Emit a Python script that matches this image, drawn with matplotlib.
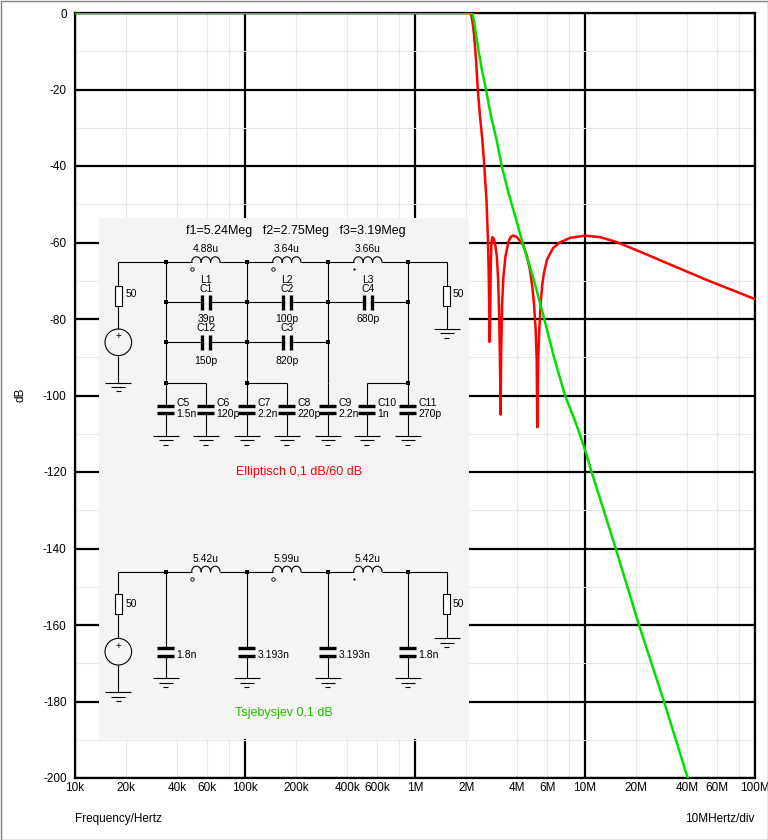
import numpy as np
import matplotlib
matplotlib.use('Agg')
import matplotlib.pyplot as plt
from matplotlib.patches import Rectangle, Circle

plt.rcParams['font.family'] = ['Liberation Sans', 'DejaVu Sans']

# ---------------- data (frequency in MHz, level in dB) ----------------
ell_freq_mhz = [0.01, 0.1, 1.0, 2.0, 2.106, 2.15, 2.181, 2.223, 2.284, 2.341,
                2.411, 2.488, 2.557, 2.634, 2.684, 2.713, 2.731, 2.75, 2.769, 2.788,
                2.81, 2.835, 2.864, 2.915, 2.961, 3.03, 3.084, 3.126, 3.156, 3.19,
                3.212, 3.255, 3.312, 3.403, 3.546, 3.65, 3.76, 3.964, 4.335, 4.539,
                4.746, 4.897, 5.011, 5.128, 5.198, 5.24, 5.311, 5.383, 5.487, 5.605,
                5.735, 5.973, 6.475, 7.1, 8.14, 10.0, 12.25, 15.37, 21.06, 33.07,
                52.0, 100.0]
ell_db = [0, 0, 0, 0, 0, -0.8, -2.5, -5.5, -12, -20,
          -27, -33, -40, -49, -59, -68, -76, -86, -80, -67,
          -61, -59.2, -58.6, -59.2, -60.3, -63.7, -69.8, -78.5, -89, -105,
          -89, -76, -69, -63.7, -59.8, -58.6, -58.2, -58.5, -60.7, -63.3,
          -67.2, -71.5, -76, -83, -90.7, -108.3, -90, -83, -76, -71,
          -68, -64.5, -61.5, -60, -58.8, -58.2, -58.6, -59.9, -62.4, -66.1,
          -69.8, -74.8]

cheb_freq_mhz = [0.01, 0.1, 1.0, 2.0, 2.135, 2.179, 2.223, 2.284, 2.379, 2.478,
                 2.616, 2.799, 3.024, 3.236, 3.572, 3.965, 4.318, 4.944, 5.684, 6.571,
                 7.627, 8.973, 10.14, 10.85, 15.16, 20.78, 29.15, 40.19]
cheb_db = [0, 0, 0, 0, -0.05, -0.3, -2, -5.5, -10.5, -15,
           -20, -27, -33.3, -40, -47.5, -54.5, -60.5, -69, -79, -90,
           -100, -108, -115, -119.5, -140, -160, -180, -200]

x_major = [1e4, 1e5, 1e6, 1e7, 1e8]
x_major_labels = ['10k', '100k', '1M', '10M', '100M']
x_minor = [2e4, 4e4, 6e4, 8e4, 2e5, 4e5, 6e5, 8e5, 2e6, 4e6, 6e6, 8e6, 2e7, 4e7, 6e7, 8e7]
x_minor_labels = ['20k', '40k', '60k', '', '200k', '400k', '600k', '', '2M', '4M', '6M', '',
                  '20M', '40M', '60M', '']
y_major = list(range(0, -201, -20))
y_minor = list(range(-10, -200, -20))

RED = '#ff0000'
GREEN = '#00e000'

# ---------------- figure ----------------
W, H = 768, 840
fig = plt.figure(figsize=(W / 100, H / 100), dpi=100)
fig.patch.set_facecolor('white')
ax = fig.add_axes([75 / W, 1 - 778 / H, 680 / W, 765 / H])
ax.set_xscale('log')
ax.set_xlim(1e4, 1e8)
ax.set_ylim(-200, 0)
ax.set_xticks(x_major)
ax.set_xticklabels(x_major_labels)
ax.set_xticks(x_minor, minor=True)
ax.set_xticklabels(x_minor_labels, minor=True)
ax.set_yticks(y_major)
ax.set_yticklabels([str(v) for v in y_major])
ax.set_yticks(y_minor, minor=True)
ax.tick_params(which='both', length=0, labelsize=8.5, colors='black')
ax.tick_params(axis='x', which='both', pad=3)
ax.tick_params(axis='y', which='both', pad=6)
ax.grid(which='minor', color='#e8e8e8', lw=0.8)
ax.grid(which='major', color='black', lw=1.6)
ax.set_axisbelow(True)
for s in ax.spines.values():
    s.set_linewidth(1.6)
    s.set_color('black')

f_ell = np.array(ell_freq_mhz) * 1e6
f_cheb = np.array(cheb_freq_mhz) * 1e6
ax.plot(f_ell, ell_db, color=RED, lw=1.8, zorder=3)
ax.plot(f_cheb, cheb_db, color=GREEN, lw=1.8, zorder=4)

fig.text(20 / W, 1 - 395 / H, 'dB', rotation=90, ha='center', va='center', fontsize=8.5)
fig.text(75 / W, 1 - 819 / H, 'Frequency/Hertz', ha='left', va='center', fontsize=8.5)
fig.text(754 / W, 1 - 819 / H, '10MHertz/div', ha='right', va='center', fontsize=8.5)

# ---------------- overlay (schematic, pixel coordinates) ----------------
ov = fig.add_axes([0, 0, 1, 1])
ov.set_xlim(0, W)
ov.set_ylim(H, 0)
ov.axis('off')

ov.add_patch(Rectangle((0.5, 0.5), W - 1, H - 1, fill=False, edgecolor='#808080', lw=1))
ov.add_patch(Rectangle((99, 218), 370, 521, facecolor='#f4f4f4', edgecolor='none'))

LW = 0.8
FS = 7.5


def line(xs, ys):
    ov.plot(xs, ys, color='black', lw=LW, solid_capstyle='butt')


def node(x, y):
    ov.plot([x], [y], marker='s', color='black', ms=3, mew=0)


def ground(x, y):
    for dy, hw in ((0, 13), (4.3, 7), (8.6, 2.5)):
        line([x - hw, x + hw], [y + dy, y + dy])


def inductor(x0, x1, y, label, dot_filled):
    w = (x1 - x0) / 3
    t = np.linspace(0, np.pi, 24)
    for i in range(3):
        cx = x0 + w * (i + 0.5)
        ov.plot(cx - (w / 2) * np.cos(t), y - 5.5 * np.sin(t), color='black', lw=LW)
    ov.text((x0 + x1) / 2, y - 13, label, ha='center', va='center', fontsize=FS)
    if dot_filled:
        ov.plot([x0], [y + 7], marker='o', color='black', ms=1.6, mew=0)
    else:
        ov.plot([x0], [y + 7], marker='o', mfc='none', mec='black', ms=2.5, mew=0.6)


def hcap(xc, y):
    ov.plot([xc - 4, xc - 4], [y - 7.5, y + 7.5], color='black', lw=2.4, solid_capstyle='butt')
    ov.plot([xc + 4, xc + 4], [y - 7.5, y + 7.5], color='black', lw=2.4, solid_capstyle='butt')


def vcap(x, ytop, yp1, yp2, ygnd, name, value, name_y, value_y):
    line([x, x], [ytop, yp1])
    ov.plot([x - 8.5, x + 8.5], [yp1, yp1], color='black', lw=2.4, solid_capstyle='butt')
    ov.plot([x - 8.5, x + 8.5], [yp2, yp2], color='black', lw=2.4, solid_capstyle='butt')
    line([x, x], [yp2, ygnd])
    ground(x, ygnd)
    if name:
        ov.text(x + 10.5, name_y, name, ha='left', va='center', fontsize=FS)
    ov.text(x + 10.5, value_y, value, ha='left', va='center', fontsize=FS)


def resistor(x, y0, y1):
    ov.add_patch(Rectangle((x - 3.7, y0), 7.4, y1 - y0, facecolor='white',
                           edgecolor='black', lw=LW, zorder=3))


def source(x, yc):
    ov.add_patch(Circle((x, yc), 13.3, facecolor='none', edgecolor='black', lw=LW))
    ov.text(x, yc - 6, '+', ha='center', va='center', fontsize=7)


NX = [165.7, 246.7, 327.7, 407.7]
SX, LX = 118.3, 446.7
COILS = [(191.7, 220.0), (272.7, 301.0), (353.7, 382.0)]


def rail(y, labels, dots):
    xs = [SX, NX[0]]
    line([SX, NX[0]], [y, y])
    for i, (c0, c1) in enumerate(COILS):
        line([NX[i], c0], [y, y])
        inductor(c0, c1, y, labels[i], dots[i])
        line([c1, NX[i + 1]], [y, y])
    line([NX[3], LX], [y, y])
    for x in NX:
        node(x, y)


# ---- elliptic filter ----
ov.text(295.7, 230.7, 'f1=5.24Meg   f2=2.75Meg   f3=3.19Meg', ha='center', va='center', fontsize=9)
ry = 262.3
rail(ry, ['4.88u', '3.64u', '3.66u'], [False, False, True])
# source side
line([SX, SX], [ry, 285.7]); resistor(SX, 285.7, 305.7)
ov.text(125.7, 294, '50', ha='left', va='center', fontsize=FS)
line([SX, SX], [305.7, 329]); source(SX, 342.3); line([SX, SX], [355.6, 382.7]); ground(SX, 382.7)
# load side
line([LX, LX], [ry, 286]); resistor(LX, 286, 305.7)
ov.text(453, 294, '50', ha='left', va='center', fontsize=FS)
line([LX, LX], [305.7, 329]); ground(LX, 329)
# row 1 series caps
y1 = 302
line([NX[0], NX[3]], [y1, y1])
for i, (ln, cn, cv) in enumerate([('L1', 'C1', '39p'), ('L2', 'C2', '100p'), ('L3', 'C4', '680p')]):
    xc = (NX[i] + NX[i + 1]) / 2
    ov.add_patch(Rectangle((xc - 3, y1 - 1), 6, 2, facecolor='#f4f4f4', edgecolor='none', zorder=2))
    hcap(xc, y1)
    ov.text(xc, 280, ln, ha='center', va='center', fontsize=FS)
    ov.text(xc, 289, cn, ha='center', va='center', fontsize=FS)
    ov.text(xc, 319.3, cv, ha='center', va='center', fontsize=FS)
for x in NX:
    node(x, y1)
# row 2 series caps
y2 = 342.3
line([NX[0], NX[2]], [y2, y2])
for i, (cn, cv) in enumerate([('C12', '150p'), ('C3', '820p')]):
    xc = (NX[i] + NX[i + 1]) / 2
    ov.add_patch(Rectangle((xc - 3, y2 - 1), 6, 2, facecolor='#f4f4f4', edgecolor='none', zorder=2))
    hcap(xc, y2)
    ov.text(xc, 328.3, cn, ha='center', va='center', fontsize=FS)
    ov.text(xc, 360.7, cv, ha='center', va='center', fontsize=FS)
for x in NX[:3]:
    node(x, y2)
# shunt caps
yb = 383.3
for x in NX:
    line([x, x], [ry, yb])
line([NX[0], 205.7], [yb, yb]); line([NX[1], 286.7], [yb, yb]); line([366.7, NX[3]], [yb, yb])
for x in (NX[0], NX[1], NX[3]):
    node(x, yb)
shunts = [(NX[0], 'C5', '1.5n', yb), (205.7, 'C6', '120p', yb), (NX[1], 'C7', '2.2n', yb),
          (286.7, 'C8', '220p', yb), (NX[2], 'C9', '2.2n', yb), (366.7, 'C10', '1n', yb),
          (NX[3], 'C11', '270p', yb)]
for x, cn, cv, yt in shunts:
    vcap(x, yt, 405.7, 413.3, 436, cn, cv, 402.7, 414.3)
ov.text(299.3, 472.3, 'Elliptisch 0,1 dB/60 dB', ha='center', va='center', fontsize=9, color=RED)

# ---- Chebyshev filter ----
ry2 = 571.7
rail(ry2, ['5.42u', '5.99u', '5.42u'], [False, False, True])
line([SX, SX], [ry2, 594.3]); resistor(SX, 594.3, 614.3)
ov.text(125.7, 604, '50', ha='left', va='center', fontsize=FS)
line([SX, SX], [614.3, 638.4]); source(SX, 651.7); line([SX, SX], [665, 692.3]); ground(SX, 692.3)
line([LX, LX], [ry2, 594.3]); resistor(LX, 594.3, 614.3)
ov.text(453, 604, '50', ha='left', va='center', fontsize=FS)
line([LX, LX], [614.3, 638.3]); ground(LX, 638.3)
for x, cv in zip(NX, ['1.8n', '3.193n', '3.193n', '1.8n']):
    vcap(x, ry2, 647.7, 656, 678.3, None, cv, None, 655)
ov.text(284, 713.3, 'Tsjebysjev 0,1 dB', ha='center', va='center', fontsize=9, color='#22bb00')

fig.savefig('out.png', dpi=100)
